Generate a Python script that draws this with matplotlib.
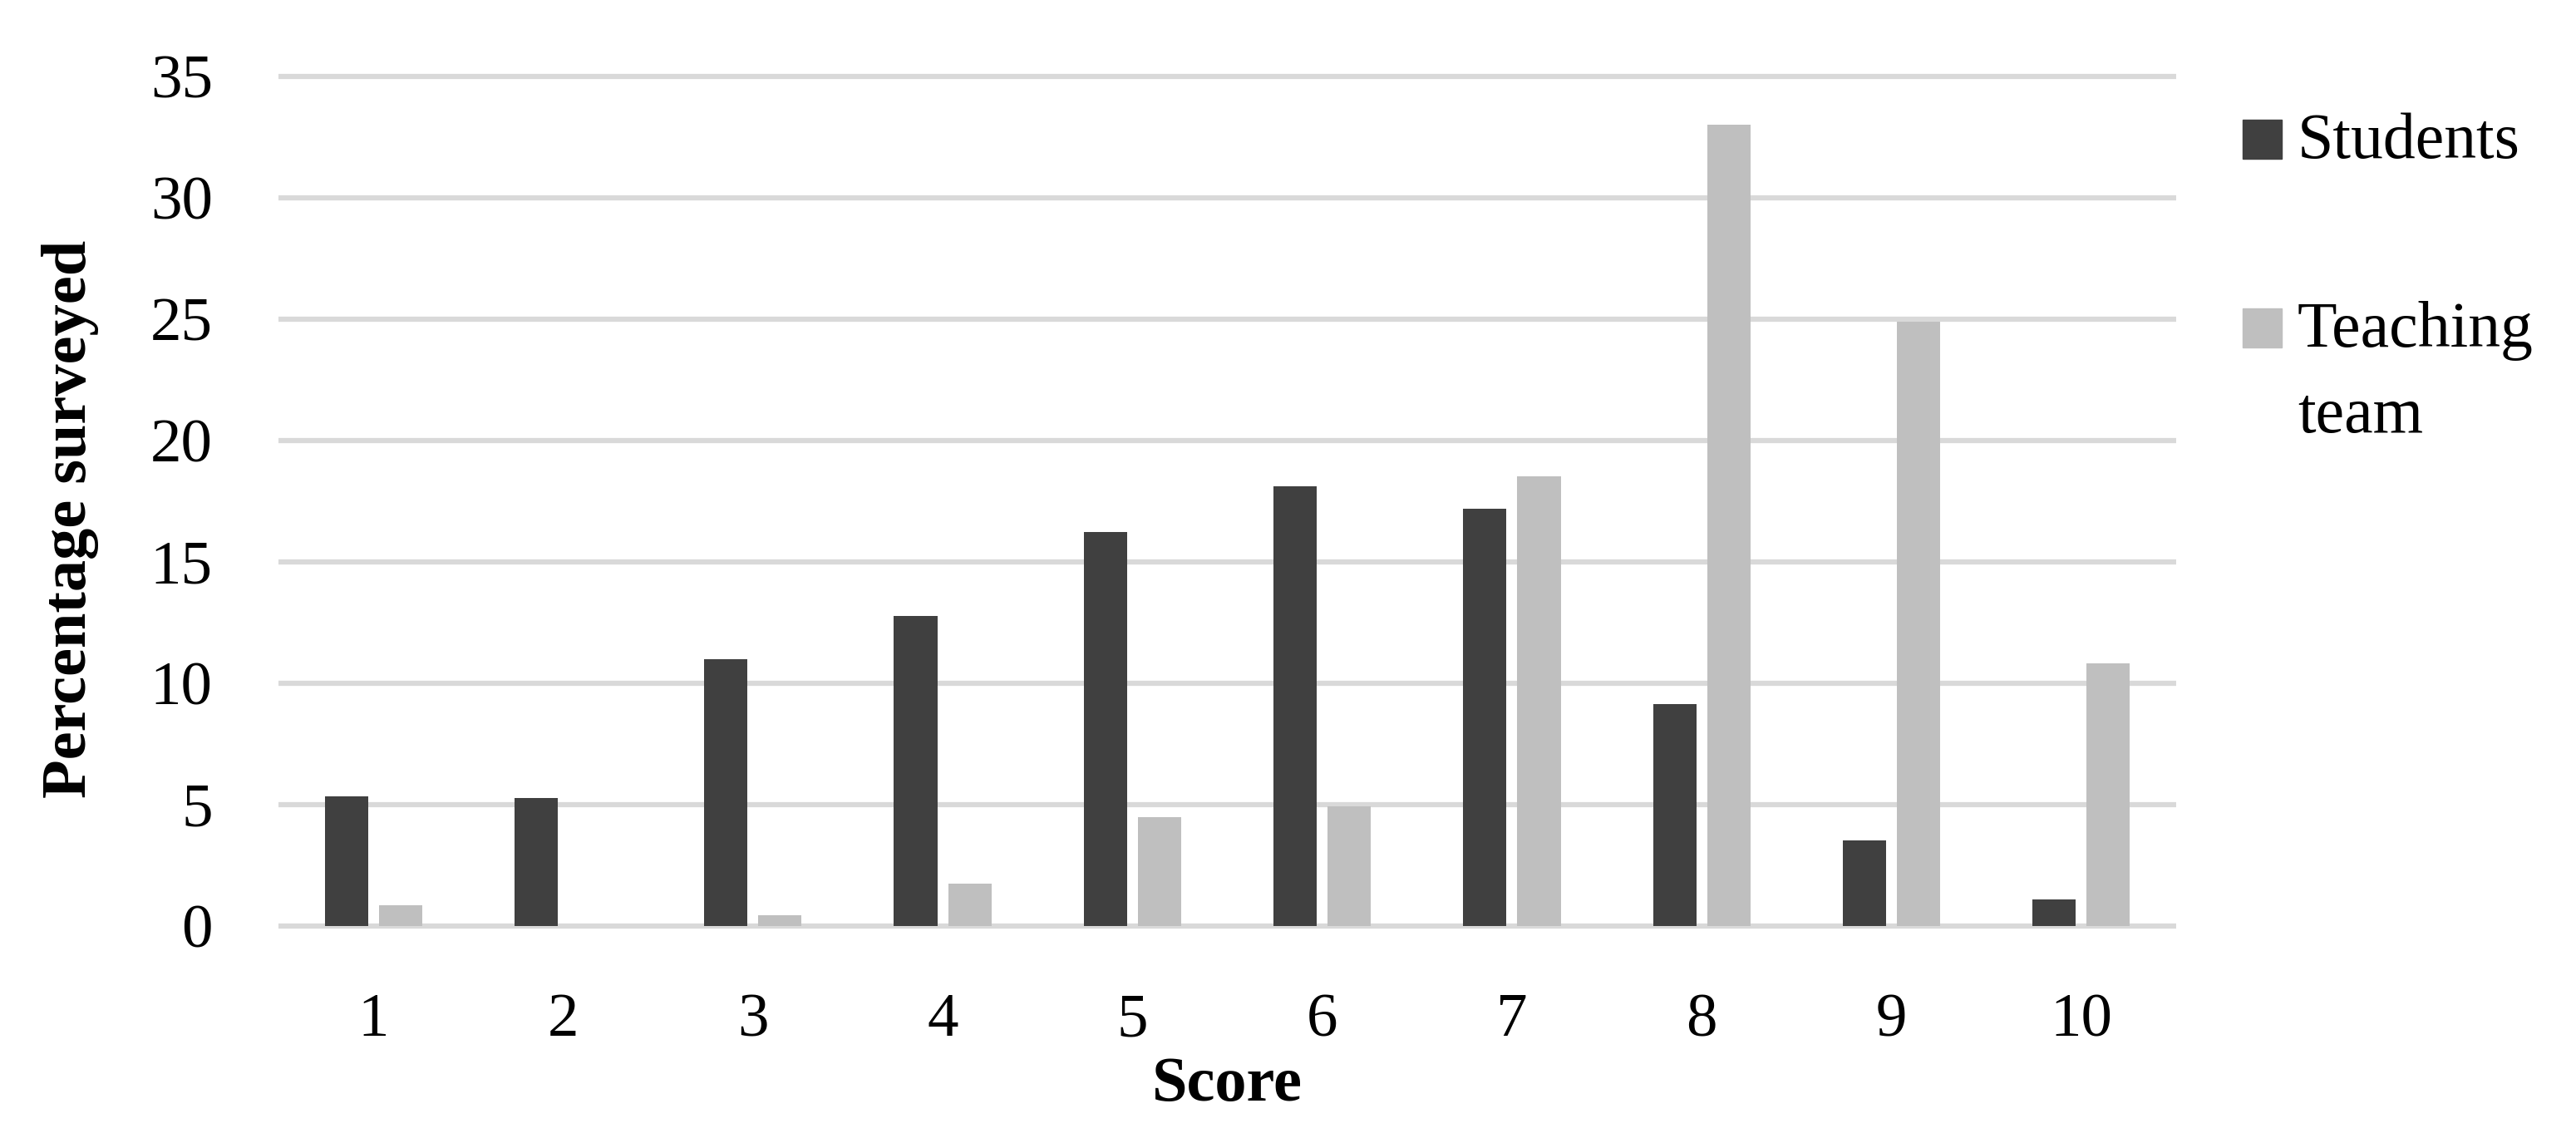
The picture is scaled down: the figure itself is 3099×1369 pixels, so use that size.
import matplotlib
matplotlib.use("Agg")
import matplotlib.pyplot as plt
from matplotlib.patches import Rectangle
import numpy as np

scores = ["1", "2", "3", "4", "5", "6", "7", "8", "9", "10"]
students = [5.35, 5.26, 10.99, 12.77, 16.23, 18.12, 17.19, 9.15, 3.53, 1.10]
teaching = [0.86, 0.0, 0.43, 1.75, 4.49, 4.94, 18.53, 33.03, 24.89, 10.83]
yticks = [0, 5, 10, 15, 20, 25, 30, 35]
series_names = ["Students", "Teaching\nteam"]

DARK = "#404040"
LIGHT = "#BFBFBF"
GRID = "#D9D9D9"

plt.rcParams['font.family'] = ['Liberation Serif', 'DejaVu Serif']

W, H = 3099, 1369
fig = plt.figure(figsize=(W / 100, H / 100), dpi=100)
ax = fig.add_axes([335 / W, 1 - 1114 / H, (2618 - 335) / W, (1114 - 92) / H])

x = np.arange(len(scores))
bw = 0.228
off = 0.1425
ax.bar(x - off, students, width=bw, color=DARK, zorder=3)
ax.bar(x + off, teaching, width=bw, color=LIGHT, zorder=3)

ax.set_xlim(-0.5, len(scores) - 0.5)
ax.set_ylim(0, 35)
ax.set_yticks(yticks)
ax.set_yticklabels([str(v) for v in yticks])
ax.set_xticks(x)
ax.set_xticklabels(scores)
ax.yaxis.grid(True, color=GRID, linewidth=4.5, zorder=0)
ax.set_axisbelow(True)
for gl in ax.get_ygridlines():
    gl.set_clip_on(False)
    gl.set_solid_capstyle('butt')
for s in ax.spines.values():
    s.set_visible(False)
ax.tick_params(axis='both', length=0, labelsize=54, colors='black')
ax.tick_params(axis='x', pad=58)
ax.tick_params(axis='y', pad=57)

ax.set_xlabel("Score", fontsize=55, fontweight='bold')
ax.xaxis.set_label_coords(0.5, -0.1536)
ax.xaxis.label.set_va('top')
ax.set_ylabel("Percentage surveyed", fontsize=55, fontweight='bold')
ax.yaxis.set_label_coords(-0.0946, 0.479)

# legend (manual, to mimic wrapped label layout)
def fx(px):
    return px / W

def fy(py):
    return 1 - py / H

sq = 47
fig.add_artist(Rectangle((fx(2698), fy(191)), sq / W, sq / H,
                         transform=fig.transFigure, color=DARK))
fig.text(fx(2764), fy(190), series_names[0], fontsize=56, va='baseline', ha='left')
fig.add_artist(Rectangle((fx(2698), fy(418)), sq / W, sq / H,
                         transform=fig.transFigure, color=LIGHT))
l1, l2 = series_names[1].split("\n")
fig.text(fx(2764), fy(417), l1, fontsize=56, va='baseline', ha='left')
fig.text(fx(2764), fy(520), l2, fontsize=56, va='baseline', ha='left')

fig.savefig("out.png", dpi=100, facecolor='white')
